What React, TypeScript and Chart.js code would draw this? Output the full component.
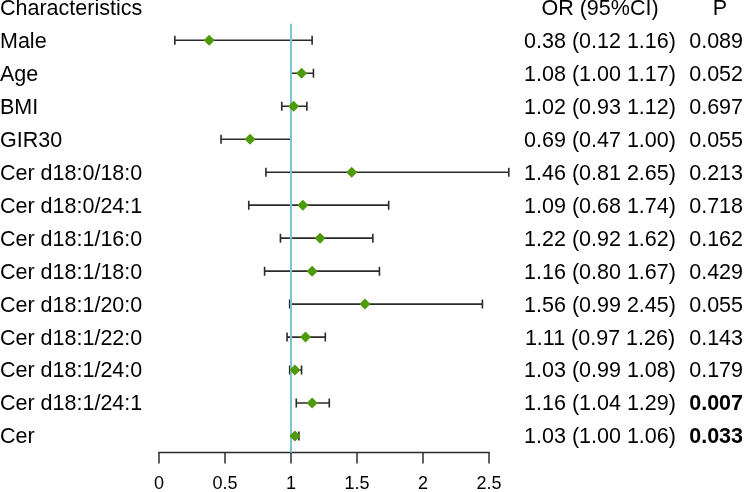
import React, { useEffect, useRef } from "react";
import { Chart, registerables } from "chart.js";

Chart.register(...registerables);

const ROW_LABELS = [
  "Male",
  "Age",
  "BMI",
  "GIR30",
  "Cer d18:0/18:0",
  "Cer d18:0/24:1",
  "Cer d18:1/16:0",
  "Cer d18:1/18:0",
  "Cer d18:1/20:0",
  "Cer d18:1/22:0",
  "Cer d18:1/24:0",
  "Cer d18:1/24:1",
  "Cer",
];
const OR_VALUES = [0.38, 1.08, 1.02, 0.69, 1.46, 1.09, 1.22, 1.16, 1.56, 1.11, 1.03, 1.16, 1.03];
const CI_LOWER = [0.12, 1.0, 0.93, 0.47, 0.81, 0.68, 0.92, 0.8, 0.99, 0.97, 0.99, 1.04, 1.0];
const CI_UPPER = [1.16, 1.17, 1.12, 1.0, 2.65, 1.74, 1.62, 1.67, 2.45, 1.26, 1.08, 1.29, 1.06];
const P_VALUES = ["0.089", "0.052", "0.697", "0.055", "0.213", "0.718", "0.162", "0.429", "0.055", "0.143", "0.179", "0.007", "0.033"];
const X_TICKS = [0, 0.5, 1, 1.5, 2, 2.5];
const REF_VALUE = 1;

const FONT_FAMILY = '"Liberation Sans", Arial, Helvetica, sans-serif';
const TEXT_SIZE = 21.5;
const TICK_SIZE = 18;

const forestPlugin = {
  id: "forest",
  beforeDatasetsDraw(chart: any) {
    const ctx = chart.ctx;
    const xs = chart.scales.x;
    const ys = chart.scales.y;
    const area = chart.chartArea;
    ctx.save();
    // error bars
    ctx.strokeStyle = "#2b2b2b";
    ctx.lineWidth = 1.6;
    for (let i = 0; i < ROW_LABELS.length; i++) {
      const y = ys.getPixelForValue(i);
      const x1 = xs.getPixelForValue(CI_LOWER[i]);
      const x2 = xs.getPixelForValue(CI_UPPER[i]);
      ctx.beginPath();
      ctx.moveTo(x1, y);
      ctx.lineTo(x2, y);
      ctx.moveTo(x1, y - 4.5);
      ctx.lineTo(x1, y + 4.5);
      ctx.moveTo(x2, y - 4.5);
      ctx.lineTo(x2, y + 4.5);
      ctx.stroke();
    }
    // x axis (drawn from the scale's ticks)
    const axisY = area.bottom;
    ctx.strokeStyle = "#2b2b2b";
    ctx.lineWidth = 1.5;
    ctx.beginPath();
    ctx.moveTo(xs.getPixelForValue(X_TICKS[0]) - 0.75, axisY);
    ctx.lineTo(xs.getPixelForValue(X_TICKS[X_TICKS.length - 1]) + 0.75, axisY);
    ctx.stroke();
    ctx.fillStyle = "#000";
    ctx.font = `${TICK_SIZE}px ${FONT_FAMILY}`;
    ctx.textAlign = "center";
    ctx.textBaseline = "alphabetic";
    xs.ticks.forEach((t: any) => {
      const x = xs.getPixelForValue(t.value);
      ctx.beginPath();
      ctx.moveTo(x, axisY);
      ctx.lineTo(x, axisY + 11);
      ctx.stroke();
      ctx.fillText(String(t.value), x, axisY + 36.5);
    });
    // reference line
    const xr = xs.getPixelForValue(REF_VALUE);
    ctx.strokeStyle = "#7cc3d3";
    ctx.lineWidth = 2;
    ctx.beginPath();
    ctx.moveTo(xr, area.top);
    ctx.lineTo(xr, area.bottom);
    ctx.stroke();
    ctx.restore();
  },
  afterDraw(chart: any) {
    const ctx = chart.ctx;
    const ys = chart.scales.y;
    ctx.save();
    ctx.fillStyle = "#000";
    ctx.textBaseline = "middle";
    const yHead = ys.getPixelForValue(-1) + 1.5;
    ctx.font = `${TEXT_SIZE}px ${FONT_FAMILY}`;
    ctx.textAlign = "left";
    ctx.fillText("Characteristics", 0, yHead);
    ctx.textAlign = "center";
    ctx.fillText("OR (95%CI)", 600, yHead);
    ctx.fillText("P", 720, yHead);
    for (let i = 0; i < ROW_LABELS.length; i++) {
      const y = ys.getPixelForValue(i) + 1.5;
      ctx.font = `${TEXT_SIZE}px ${FONT_FAMILY}`;
      ctx.textAlign = "left";
      ctx.fillText(ROW_LABELS[i], 0, y);
      ctx.textAlign = "center";
      const orText = `${OR_VALUES[i].toFixed(2)} (${CI_LOWER[i].toFixed(2)} ${CI_UPPER[i].toFixed(2)})`;
      ctx.fillText(orText, 600, y);
      const bold = parseFloat(P_VALUES[i]) < 0.05;
      ctx.font = `${bold ? "bold " : ""}${TEXT_SIZE}px ${FONT_FAMILY}`;
      ctx.textAlign = "right";
      ctx.fillText(P_VALUES[i], 743, y);
    }
    ctx.restore();
  },
};

export default function App() {
  const ref = useRef<HTMLCanvasElement | null>(null);
  useEffect(() => {
    document.body.style.margin = "0";
    const canvas = ref.current;
    if (!canvas) return;
    const chart = new Chart(canvas, {
      type: "scatter",
      data: {
        datasets: [
          {
            data: OR_VALUES.map((v, i) => ({ x: v, y: i })),
            pointStyle: "rectRot",
            pointRadius: 5.5,
            pointHoverRadius: 5.5,
            backgroundColor: "#4f9a0a",
            borderColor: "#4f9a0a",
            borderWidth: 0,
            clip: false,
          } as any,
        ],
      },
      options: {
        animation: false,
        responsive: false,
        maintainAspectRatio: false,
        layout: { padding: { left: 159, right: 255, top: 23.8, bottom: 39.5 } },
        plugins: { legend: { display: false }, tooltip: { enabled: false } },
        scales: {
          x: {
            type: "linear",
            display: false,
            min: X_TICKS[0],
            max: X_TICKS[X_TICKS.length - 1],
            afterBuildTicks: (scale: any) => {
              scale.ticks = X_TICKS.map((v) => ({ value: v }));
            },
          },
          y: {
            type: "linear",
            min: -0.5,
            max: 12.5,
            reverse: true,
            display: false,
          },
        },
      },
      plugins: [forestPlugin],
    });
    return () => chart.destroy();
  }, []);
  return (
    <div style={{ width: 744, height: 492 }}>
      <canvas ref={ref} width={744} height={492} style={{ display: "block", width: 744, height: 492 }} />
    </div>
  );
}
